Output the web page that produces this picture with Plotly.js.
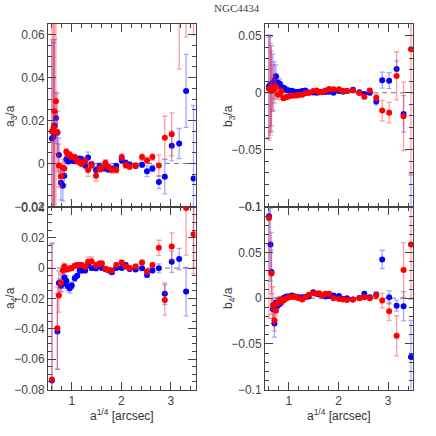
<!DOCTYPE html>
<html>
<head>
<meta charset="utf-8">
<script src="https://cdn.plot.ly/plotly-3.0.1.min.js"></script>
<style>
  body { margin: 0; background: #fff; }
  #plot { width: 436px; height: 436px; }
</style>
</head>
<body>
<div id="plot"></div>
<script>
// radius a^(1/4) in arcsec, shared by all four panels
const radius = [0.60,0.63,0.65,0.68,0.71,0.74,0.78,0.82,0.85,0.89,0.92,0.96,1.00,1.06,1.11,1.16,1.20,1.27,1.33,1.40,
                1.49,1.56,1.61,1.68,1.74,1.81,1.90,2.01,2.09,2.17,2.29,2.42,2.52,2.63,2.76,2.88,3.02,3.17,3.31,3.46];

// a3/a
const a3Blue = [0.0116,0.0124,0.0177,0.0212,0.0143,0.0039,-0.009,-0.0104,-0.0057,0.0019,0.001,0.0016,0.0012,0.001,0.0015,0.0023,0.002,-0.001,0.0028,-0.0005,
                -0.003,-0.0012,-0.0023,-0.0023,-0.0028,-0.0023,-0.0012,0.0015,0.0003,-0.0005,-0.0012,-0.0006,-0.0036,-0.0023,-0.0087,-0.0062,0.0082,0.0093,0.0338,-0.007];
const a3BlueErr = [0.046,0.044,0.04,0.012,0.01,0.008,0.008,0.007,0.004,0.0015,0.0015,0.0012,0.001,0.001,0.001,0.001,0.0012,0.0015,0.0025,0.0015,
                   0.0015,0.0015,0.0015,0.0012,0.0012,0.0012,0.0012,0.0012,0.0012,0.001,0.001,0.0012,0.0025,0.0015,0.003,0.008,0.007,0.007,0.017,0.034];
const a3Red = [0.015,0.0166,0.0243,0.029,0.0147,-0.001,-0.006,-0.002,-0.0023,0.0054,0.0043,0.004,0.003,0.003,0.001,0.0005,-0.0003,0.0012,-0.003,-0.001,
               -0.0057,-0.0026,-0.002,0.0003,-0.0015,-0.003,-0.003,0.003,-0.0008,-0.0015,-0.001,0.003,0.0014,0.003,-0.001,0.012,0.0136,0.075,0.076,0.09];
const a3RedErr = [0.1,0.1,0.08,0.05,0.018,0.01,0.005,0.004,0.003,0.0015,0.0015,0.0015,0.0012,0.0012,0.0012,0.0012,0.0012,0.0015,0.003,0.002,
                  0.0025,0.0015,0.0015,0.0015,0.0015,0.0015,0.0015,0.0015,0.0015,0.0012,0.0012,0.0015,0.0015,0.0015,0.005,0.01,0.01,0.031,0.017,0.03];

// b3/a
const b3Blue = [0.0056,0.0074,0.006,0.009,0.011,0.0144,0.0088,0.008,0.0044,0.0044,0.0035,0.0025,0.002,0.0018,0.001,0.0005,0.0008,0.0015,0.002,0.0003,
                0.0003,0.0,0.0005,0.0008,0.0006,0.0008,0.0,0.0015,0.001,0.0015,0.0026,0.0005,-0.001,0.0,-0.0076,0.011,0.0106,0.0209,-0.0185,-0.115];
const b3BlueErr = [0.045,0.042,0.035,0.025,0.016,0.01,0.005,0.004,0.003,0.002,0.002,0.0015,0.0015,0.0015,0.0012,0.0012,0.0012,0.0012,0.0012,0.001,
                   0.001,0.001,0.001,0.001,0.001,0.001,0.001,0.001,0.001,0.001,0.001,0.0012,0.0015,0.0015,0.003,0.007,0.007,0.007,0.016,0.044];
const b3Red = [0.0035,0.003,0.0015,0.0044,0.003,0.0056,-0.0018,-0.001,0.0015,-0.0047,-0.0042,-0.0038,-0.003,-0.0026,-0.0024,-0.0024,-0.002,-0.0018,-0.0005,-0.0003,
               0.0015,0.002,0.0005,0.0005,0.002,0.0032,0.003,0.003,0.0015,0.0015,0.002,-0.0003,-0.0035,0.002,-0.0044,-0.0156,-0.0174,0.0147,-0.0206,0.038];
const b3RedErr = [0.045,0.04,0.035,0.02,0.012,0.006,0.004,0.003,0.0025,0.002,0.0015,0.0015,0.0015,0.0012,0.0012,0.0012,0.0012,0.0012,0.0012,0.0012,
                  0.0012,0.001,0.001,0.001,0.001,0.001,0.001,0.001,0.001,0.001,0.001,0.0012,0.0015,0.0015,0.003,0.009,0.009,0.021,0.03,0.11];

// a4/a
const a4Blue = [-0.074,null,null,null,-0.0418,-0.0098,-0.0116,-0.0105,-0.006,-0.0083,-0.012,-0.0133,-0.0115,-0.0068,-0.005,-0.0017,-0.0017,-0.0017,0.002,0.0,
                -0.0002,0.0015,0.0,-0.0007,-0.0017,-0.0028,0.0,0.0,0.002,-0.0007,-0.0009,-0.0002,-0.0046,-0.0017,-0.0002,-0.017,0.0042,0.006,-0.0155,0.06];
const a4BlueErr = [0.09,0,0,0,0.025,0.008,0.004,0.003,0.003,0.003,0.003,0.003,0.002,0.002,0.0015,0.0015,0.0015,0.0015,0.0015,0.0015,
                   0.0015,0.0012,0.0012,0.0012,0.0012,0.0012,0.0012,0.0012,0.0012,0.0012,0.0012,0.0012,0.0015,0.0015,0.003,0.007,0.007,0.007,0.016,0.06];
const a4Red = [-0.0734,null,null,null,-0.0396,-0.0181,-0.0098,-0.0017,0.001,-0.0007,-0.0007,-0.0003,0.0,0.0015,0.002,0.002,0.002,0.001,0.0042,0.0044,
               0.002,0.003,0.003,-0.0007,-0.0013,-0.0017,0.002,0.0037,0.001,0.0,0.001,0.0037,-0.0022,0.002,0.0133,-0.021,0.0142,null,0.0395,0.0223];
const a4RedErr = [0.09,0,0,0,0.027,0.011,0.006,0.003,0.002,0.002,0.0015,0.0015,0.0015,0.0015,0.0015,0.0015,0.0015,0.0015,0.003,0.003,
                  0.002,0.0015,0.0015,0.0015,0.0015,0.0015,0.0015,0.0015,0.0015,0.0015,0.0015,0.0015,0.002,0.0015,0.005,0.01,0.009,0,0.031,0.026];

// b4/a
const b4Blue = [0.09,0.0588,0.0287,-0.012,-0.0276,-0.005,-0.008,-0.006,-0.004,0.0,0.001,0.002,0.002,0.003,0.002,0.0015,0.001,0.001,0.0015,0.002,
                0.0066,0.005,0.004,0.003,0.002,0.0025,0.003,0.0025,-0.0007,0.0,-0.0015,0.0004,0.0048,0.001,0.0037,0.0426,0.001,-0.0081,-0.0088,-0.0643];
const b4BlueErr = [0.06,0.04,0.024,0.01,0.015,0.006,0.004,0.003,0.002,0.002,0.0015,0.0015,0.0015,0.0015,0.0015,0.0015,0.0015,0.0015,0.0015,0.0015,
                   0.0015,0.0015,0.0015,0.0015,0.0015,0.0015,0.0015,0.0015,0.0015,0.0015,0.0015,0.0015,0.002,0.002,0.003,0.01,0.007,0.006,0.016,0.04];
const b4Red = [0.088,null,0.0272,-0.0074,-0.024,-0.0136,-0.005,-0.0015,-0.004,-0.0026,-0.001,0.0,0.001,0.0015,0.002,0.001,0.0,-0.0015,0.001,0.0037,
               0.0055,0.0048,0.0055,0.003,0.0048,0.0048,0.0,-0.0007,-0.0015,-0.0018,-0.0015,0.0,0.001,0.0,0.003,-0.0026,-0.0143,-0.0412,0.0309,0.0588];
const b4RedErr = [0.11,0,0.045,0.02,0.012,0.006,0.004,0.003,0.002,0.002,0.0015,0.0015,0.0015,0.0015,0.0015,0.0015,0.0015,0.0015,0.002,0.0015,
                  0.0015,0.0015,0.0015,0.0015,0.0015,0.0015,0.0015,0.0015,0.0015,0.0015,0.0015,0.0015,0.002,0.002,0.004,0.008,0.01,0.022,0.03,0.06];

const W = 436;
const axisColor = '#444';
const tickFont = { family: 'Liberation Sans, Arial, sans-serif', size: 12, color: '#444' };

function series(y, err, color, barColor, xa, ya) {
    return {
        x: radius, y: y,
        xaxis: xa, yaxis: ya,
        type: 'scatter', mode: 'markers',
        marker: { color: color, size: 6 },
        error_y: { type: 'data', array: err, visible: true, color: barColor, thickness: 1.3, width: 2.5 },
        showlegend: false,
        hoverinfo: 'x+y'
    };
}

function xAxis(domain, anchor, showLabels) {
    return {
        domain: domain, anchor: anchor,
        range: [0.52, 3.5],
        tick0: 0, dtick: 1,
        ticks: 'inside', ticklen: 8, tickcolor: axisColor,
        minor: { dtick: 0.2, ticks: 'inside', ticklen: 4, tickcolor: axisColor },
        showline: true, linecolor: axisColor, linewidth: 1, mirror: 'allticks',
        showgrid: false, zeroline: false,
        showticklabels: showLabels, tickfont: tickFont
    };
}

function yAxis(domain, anchor, range, dtick, minorDtick) {
    return {
        domain: domain, anchor: anchor,
        range: range,
        tick0: 0, dtick: dtick,
        ticks: 'inside', ticklen: 8, tickcolor: axisColor,
        minor: { dtick: minorDtick, ticks: 'inside', ticklen: 4, tickcolor: axisColor },
        showline: true, linecolor: axisColor, linewidth: 1, mirror: 'allticks',
        showgrid: false, zeroline: false,
        tickfont: tickFont
    };
}

const blue = 'rgb(0,0,255)', blueBar = 'rgba(60,60,255,0.45)';
const red = 'rgb(255,0,0)', redBar = 'rgba(255,40,40,0.45)';

const data = [
    series(a3Blue, a3BlueErr, blue, blueBar, 'x', 'y'),
    series(a3Red, a3RedErr, red, redBar, 'x', 'y'),
    series(b3Blue, b3BlueErr, blue, blueBar, 'x2', 'y2'),
    series(b3Red, b3RedErr, red, redBar, 'x2', 'y2'),
    series(a4Blue, a4BlueErr, blue, blueBar, 'x3', 'y3'),
    series(a4Red, a4RedErr, red, redBar, 'x3', 'y3'),
    series(b4Blue, b4BlueErr, blue, blueBar, 'x4', 'y4'),
    series(b4Red, b4RedErr, red, redBar, 'x4', 'y4')
];

const leftX = [48 / W, 195.5 / W];
const rightX = [265 / W, 413 / W];
const topY = [1 - 207 / W, 1 - 24 / W];
const botY = [1 - 389.5 / W, 1 - 207 / W];

function zeroLine(xref, yref) {
    return {
        type: 'line', xref: xref + ' domain', yref: yref,
        x0: 0, x1: 1, y0: 0, y1: 0,
        line: { color: '#777', width: 1, dash: '5px,4px' },
        layer: 'below'
    };
}

const labelFont = { family: 'Liberation Sans, Arial, sans-serif', size: 12, color: '#333' };

function label(text, px, py, angle, font) {
    return {
        text: text, xref: 'paper', yref: 'paper',
        x: px / W, y: 1 - py / W,
        xanchor: 'center', yanchor: 'middle',
        textangle: angle, showarrow: false, font: font
    };
}

const layout = {
    width: W, height: W,
    margin: { l: 0, r: 0, t: 0, b: 0 },
    paper_bgcolor: '#fff', plot_bgcolor: '#fff',
    xaxis: xAxis(leftX, 'y', false),
    yaxis: yAxis(topY, 'x', [-0.0203, 0.065], 0.02, 0.005),
    xaxis2: xAxis(rightX, 'y2', false),
    yaxis2: yAxis(topY, 'x2', [-0.1, 0.0602], 0.05, 0.01),
    xaxis3: xAxis(leftX, 'y3', true),
    yaxis3: yAxis(botY, 'x3', [-0.08, 0.0402], 0.02, 0.005),
    xaxis4: xAxis(rightX, 'y4', true),
    yaxis4: yAxis(botY, 'x4', [-0.1, 0.1], 0.05, 0.01),
    shapes: [zeroLine('x', 'y'), zeroLine('x2', 'y2'), zeroLine('x3', 'y3'), zeroLine('x4', 'y4')],
    annotations: [
        label('NGC4434', 237, 8, 0, { family: 'Liberation Serif, serif', size: 11, color: '#444' }),
        label('a<sub>3</sub>/a', 11, 116, -90, labelFont),
        label('b<sub>3</sub>/a', 229, 116, -90, labelFont),
        label('a<sub>4</sub>/a', 11, 298, -90, labelFont),
        label('b<sub>4</sub>/a', 229, 298, -90, labelFont),
        label('a<sup>1/4</sup> [arcsec]', 122, 415, 0, labelFont),
        label('a<sup>1/4</sup> [arcsec]', 339, 415, 0, labelFont)
    ]
};

Plotly.newPlot('plot', data, layout, { staticPlot: true, displayModeBar: false });
</script>
</body>
</html>
